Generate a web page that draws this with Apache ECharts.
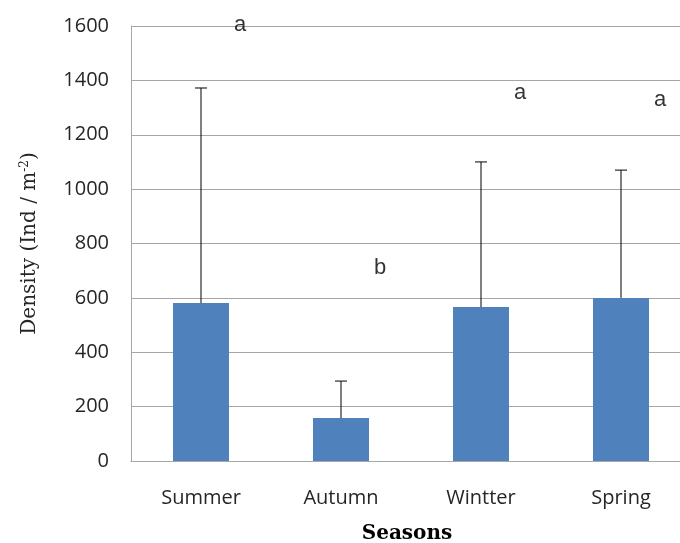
<!DOCTYPE html>
<html>
<head>
<meta charset="utf-8">
<script src="https://cdn.jsdelivr.net/npm/echarts@6/dist/echarts.min.js"></script>
<style>html,body{margin:0;padding:0;background:#fff;overflow:hidden;width:680px;height:543px;}#c{width:691px;height:543px;}</style>
</head>
<body>
<div id="c"></div>
<script>
const categories = ['Summer', 'Autumn', 'Wintter', 'Spring'];
const means = [581, 158, 566, 600];
const upperErrors = [1372, 294, 1100, 1070];
const letters = ['a', 'b', 'a', 'a'];
const letterY = [1603, 710, 1353, 1328];
const yTicks = [0, 200, 400, 600, 800, 1000, 1200, 1400, 1600];

const chart = echarts.init(document.getElementById('c'), null, {renderer: 'canvas'});
const tickFont = '"Open Sans", Lato, sans-serif';
const serif = '"DejaVu Serif", serif';

chart.setOption({
  animation: false,
  grid: {left: 131, top: 26, right: 0, bottom: 82, containLabel: false},
  xAxis: {
    type: 'category',
    data: categories,
    axisLine: {show: true, lineStyle: {color: '#A6A6A6', width: 1}},
    axisTick: {show: false},
    axisLabel: {color: '#262626', fontSize: 20, fontFamily: tickFont, margin: 27}
  },
  yAxis: {
    type: 'value',
    min: yTicks[0],
    max: yTicks[yTicks.length - 1],
    interval: 200,
    axisLine: {show: true, lineStyle: {color: '#A6A6A6', width: 1}},
    axisTick: {show: false},
    splitLine: {lineStyle: {color: '#A6A6A6', width: 1}},
    axisLabel: {color: '#262626', fontSize: 20, fontFamily: tickFont, margin: 22, formatter: v => String(v)},
    name: '{n|Density (Ind / m}{s|-2}{n|)}',
    nameLocation: 'middle',
    nameGap: 91,
    nameTextStyle: {
      fontFamily: serif,
      fontSize: 20,
      rich: {
        n: {fontFamily: serif, fontSize: 20, color: '#262626'},
        s: {fontFamily: serif, fontSize: 12, color: '#262626', verticalAlign: 'top', padding: [0, 0, 9, 0]}
      }
    }
  },
  graphic: [{
    type: 'text',
    x: 407,
    y: 524,
    style: {
      text: 'Seasons',
      fontFamily: serif,
      fontWeight: 'bold',
      fontSize: 20,
      fill: '#000',
      textAlign: 'center'
    }
  }],
  series: [
    {
      type: 'bar',
      data: means,
      barWidth: '40%',
      itemStyle: {color: '#4F81BD'},
      z: 2
    },
    {
      type: 'custom',
      z: 3,
      data: categories.map((c, i) => [i, means[i], upperErrors[i]]),
      renderItem: function (params, api) {
        const x = api.value(0);
        const base = api.coord([x, api.value(1)]);
        const top = api.coord([x, api.value(2)]);
        const cap = 6;
        return {
          type: 'group',
          children: [
            {type: 'line', shape: {x1: base[0], y1: base[1], x2: top[0], y2: top[1]}, style: {stroke: '#000', lineWidth: 1}},
            {type: 'line', shape: {x1: top[0] - cap, y1: top[1], x2: top[0] + cap, y2: top[1]}, style: {stroke: '#000', lineWidth: 1}}
          ]
        };
      }
    },
    {
      type: 'scatter',
      symbolSize: 0,
      clip: false,
      z: 4,
      data: categories.map((c, i) => ({value: [i, letterY[i]], name: letters[i]})),
      label: {
        show: true,
        position: 'inside',
        offset: [39, 0],
        formatter: p => p.name,
        fontFamily: '"Liberation Sans", Arial, sans-serif',
        fontSize: 22,
        color: '#000'
      }
    }
  ]
});
</script>
</body>
</html>
